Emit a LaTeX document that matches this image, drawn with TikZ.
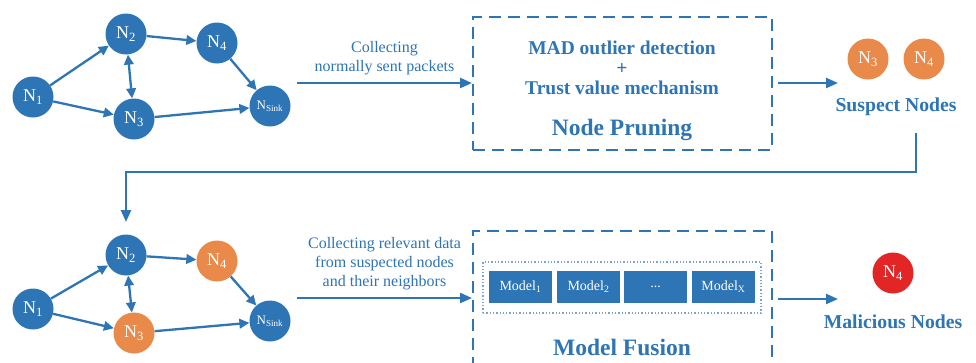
\documentclass[tikz,border=0pt]{standalone}
\usepackage{fontspec}
\setmainfont{Liberation Serif}
\newfontfamily\labelfont{Liberation Serif}
\usetikzlibrary{arrows.meta,calc}
\definecolor{nblue}{RGB}{46,117,182}
\definecolor{norange}{RGB}{233,137,74}
\definecolor{nred}{RGB}{226,38,38}
\tikzset{
  netnode/.style={circle, minimum size=41pt, inner sep=0pt, text=white,
    font=\labelfont\fontsize{18}{18}\selectfont},
  bluenode/.style={netnode, fill=nblue},
  suspnode/.style={netnode, fill=norange},
  badnode/.style={netnode, fill=nred},
  sinknode/.style={bluenode, font=\labelfont\fontsize{13}{13}\selectfont},
  link/.style={draw=nblue, line width=2.3pt, -{Triangle[length=10pt,width=9.5pt]}},
  bilink/.style={link, {Triangle[length=10pt,width=9.5pt]}-{Triangle[length=10pt,width=9.5pt]}},
  flow/.style={draw=nblue, line width=2.3pt, -{Triangle[length=12pt,width=10pt]}},
  stagebox/.style={draw=nblue, line width=2pt, dash pattern=on 12pt off 7pt, rectangle},
  note/.style={text=nblue, align=center, font=\labelfont\fontsize{16}{19}\selectfont},
  bigbold/.style={text=nblue, align=center, font=\labelfont\fontsize{19.5}{20}\selectfont\bfseries},
  title/.style={text=nblue, font=\labelfont\fontsize{23.5}{24}\selectfont\bfseries},
  modelbox/.style={fill=nblue, text=white, minimum width=63pt, minimum height=32pt,
    inner sep=0pt, font=\labelfont\fontsize{14}{14}\selectfont},
}
\begin{document}
\begin{tikzpicture}[x=1pt,y=-1pt]
\clip (0,0) rectangle (976,362);
\fill[white] (0,0) rectangle (976,362);

% ---------- upper network ----------
\node[bluenode] (a1) at (33,97) {N\textsubscript{1}};
\node[bluenode] (a2) at (126,34) {N\textsubscript{2}};
\node[bluenode] (a4) at (217,43) {N\textsubscript{4}};
\node[bluenode] (a3) at (134,119) {N\textsubscript{3}};
\node[sinknode] (as) at (270,106) {N\textsubscript{Sink}};
\draw[link] (a1) -- (a2);
\draw[link] (a1) -- (a3);
\draw[link] (a2) -- (a4);
\draw[bilink] (a2) -- (a3);
\draw[link] (a4) -- (as);
\draw[link] (a3) -- (as);

% ---------- node pruning stage ----------
\node[stagebox, minimum width=299pt, minimum height=133pt] (prune) at (622.5,83.5) {};
\node[bigbold] (mad) at (622,68) {MAD outlier detection\\+\\Trust value mechanism};
\node[title] (prunet) at (622,130) {Node Pruning};
\coordinate (in1) at (297,83);
\draw[flow] (in1) -- (in1 -| prune.west) node[note, midway, above=4pt] {Collecting\\normally sent packets};
\coordinate (out1) at (838,83);
\draw[flow] (out1 -| prune.east) ++(5,0) -- (out1);

% ---------- suspect nodes ----------
\node[suspnode] (s3) at (868,59) {N\textsubscript{3}};
\node[suspnode] (s4) at (924,59) {N\textsubscript{4}};
\node[text=nblue, font=\labelfont\fontsize{19.7}{20}\selectfont\bfseries] (susp) at (896,107) {Suspect Nodes};

% ---------- feedback to second round ----------
\coordinate (fb) at (916,133);
\coordinate (fbend) at (126,222);
\draw[flow] (fb) -- (916,172) -- (126,172) -- (fbend);

% ---------- lower network ----------
\node[bluenode] (b1) at (33,309) {N\textsubscript{1}};
\node[bluenode] (b2) at (126,255) {N\textsubscript{2}};
\node[suspnode] (b4) at (217,261) {N\textsubscript{4}};
\node[suspnode] (b3) at (134,333) {N\textsubscript{3}};
\node[sinknode] (bs) at (270,321) {N\textsubscript{Sink}};
\draw[link] (b1) -- (b2);
\draw[link] (b1) -- (b3);
\draw[link] (b2) -- (b4);
\draw[bilink] (b2) -- (b3);
\draw[link] (b4) -- (bs);
\draw[link] (b3) -- (bs);

% ---------- model fusion stage ----------
\node[stagebox, minimum width=299pt, minimum height=150pt] (fusion) at (622.5,306) {};
\node[draw=nblue!65, dotted, line width=1.3pt, minimum width=278pt, minimum height=51pt] (pool) at (622,287.5) {};
\node[modelbox] (m1) at (520.5,287) {Model\textsubscript{1}};
\node[modelbox] (m2) at (588.5,287) {Model\textsubscript{2}};
\node[modelbox] (m3) at (655.5,287) {...};
\node[modelbox] (m4) at (723.5,287) {Model\textsubscript{X}};
\node[title] (fusiont) at (622,347) {Model Fusion};
\coordinate (in2) at (297,298);
\draw[flow] (in2) -- (in2 -| fusion.west) node[note, midway, above=4pt] {Collecting relevant data\\from suspected nodes\\and their neighbors};
\coordinate (out2) at (838,299);
\draw[flow] (out2 -| fusion.east) ++(5,0) -- (out2);

% ---------- malicious nodes ----------
\node[badnode] (mal) at (893,273) {N\textsubscript{4}};
\node[text=nblue, font=\labelfont\fontsize{19.7}{20}\selectfont\bfseries] (malt) at (893,322) {Malicious Nodes};
\end{tikzpicture}
\end{document}
